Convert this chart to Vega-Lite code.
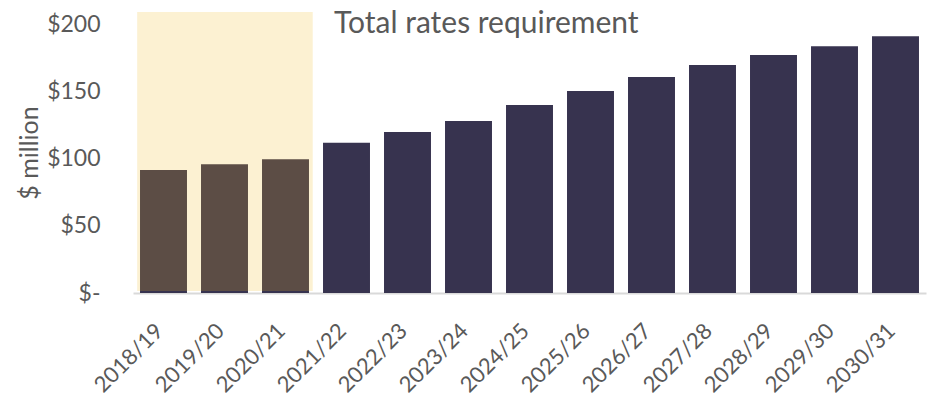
{
  "$schema": "https://vega.github.io/schema/vega-lite/v6.json",
  "width": 793,
  "height": 281,
  "autosize": {"type": "none"},
  "padding": {"left": 133, "top": 12, "right": 4, "bottom": 105},
  "background": "white",
  "config": {"view": {"stroke": null}, "font": "Lato"},
  "title": {
    "text": "Total rates requirement",
    "anchor": "start",
    "frame": "group",
    "dx": 201,
    "dy": 31,
    "fontSize": 30,
    "font": "Lato",
    "fontWeight": "normal",
    "color": "#595959"
  },
  "layer": [
    {
      "data": {
        "values": [
          {"year": "2018/19", "value": 91.4},
          {"year": "2019/20", "value": 95.7},
          {"year": "2020/21", "value": 99.4},
          {"year": "2021/22", "value": 111.7},
          {"year": "2022/23", "value": 119.7},
          {"year": "2023/24", "value": 128.0},
          {"year": "2024/25", "value": 139.8},
          {"year": "2025/26", "value": 150.2},
          {"year": "2026/27", "value": 160.6},
          {"year": "2027/28", "value": 169.5},
          {"year": "2028/29", "value": 177.0},
          {"year": "2029/30", "value": 183.6},
          {"year": "2030/31", "value": 191.0}
        ]
      },
      "mark": {"type": "bar", "color": "#37334F"},
      "encoding": {
        "x": {
          "field": "year",
          "type": "nominal",
          "scale": {"paddingInner": 0.23, "paddingOuter": 0.115},
          "axis": {
            "title": null,
            "labelAngle": -45,
            "labelFontSize": 22,
            "labelFont": "Lato",
            "labelColor": "#595959",
            "ticks": false,
            "labelPadding": 27,
            "labelOffset": -11,
            "domainColor": "#D9D9D9",
            "domainWidth": 2
          }
        },
        "y": {
          "field": "value",
          "type": "quantitative",
          "scale": {"domain": [0, 209], "nice": false},
          "axis": {
            "title": "$ million",
            "titleFontSize": 25,
            "titleFont": "Lato",
            "titleFontWeight": "normal",
            "titleColor": "#595959",
            "titlePadding": 4,
            "values": [0, 50, 100, 150, 200],
            "labelExpr": "datum.value == 0 ? '$-' : '$' + datum.value",
            "labelFontSize": 23,
            "labelFont": "Lato",
            "labelColor": "#595959",
            "labelPadding": 33,
            "grid": false,
            "domain": false,
            "ticks": false
          }
        }
      }
    },
    {
      "data": {"values": [{"start": "2018/19", "end": "2020/21", "lo": 1.5, "hi": 209}]},
      "mark": {"type": "rect", "color": "#F2B820", "opacity": 0.2},
      "encoding": {
        "x": {"field": "start", "type": "nominal", "bandPosition": -0.06},
        "x2": {"field": "end", "bandPosition": 1.08},
        "y": {"field": "lo", "type": "quantitative"},
        "y2": {"field": "hi"}
      }
    }
  ]
}
